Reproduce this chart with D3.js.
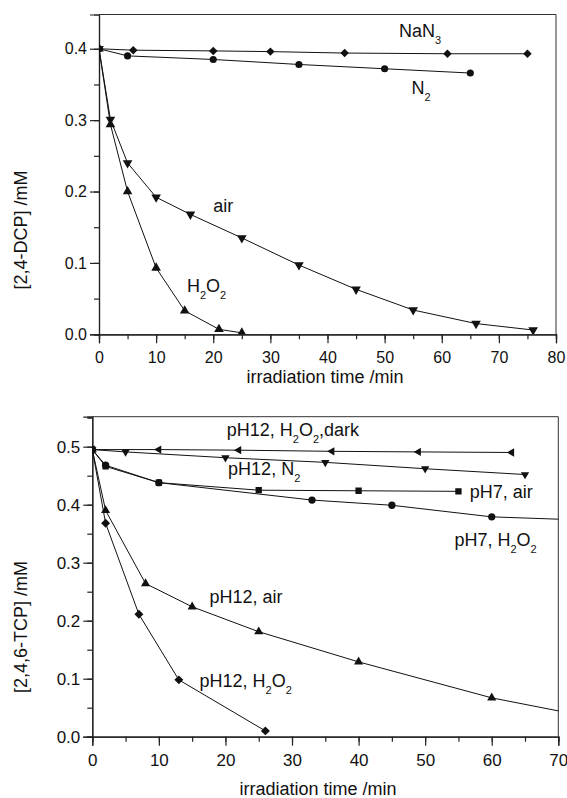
<!DOCTYPE html>
<html>
<head>
  <meta charset="utf-8">
  <title>DCP and TCP degradation</title>
  <script src="https://d3js.org/d3.v7.min.js"></script>
  <style>
    body { margin: 0; background: #fff; }
    text { font-family: "Liberation Sans", Arial, sans-serif; fill: #111; }
  </style>
</head>
<body>
<div id="chart"></div>
<script>

// ---- data: [time (min), concentration (mM)] ----

// top panel: 2,4-DCP
const dcpNaN3 = [[0,0.400],[6,0.398],[20,0.397],[30,0.396],[43,0.394],[61,0.393],[75,0.393]];
const dcpN2   = [[0,0.400],[5,0.390],[20,0.385],[35,0.378],[50,0.372],[65,0.366]];
const dcpAir  = [[0,0.400],[2,0.301],[5,0.240],[10,0.192],[16,0.168],[25,0.135],[35,0.097],[45,0.063],[55,0.034],[66,0.015],[76,0.006]];
const dcpH2O2 = [[0,0.400],[2,0.294],[5,0.200],[10,0.093],[15,0.033],[21,0.007],[25,0.002]];

// bottom panel: 2,4,6-TCP (last points of two series run past the axis end)
const tcpDark     = [[0,0.495],[10,0.495],[22,0.494],[36,0.492],[49,0.491],[63,0.490]];
const tcpN2       = [[0,0.495],[5,0.491],[20,0.481],[35,0.473],[50,0.462],[65,0.452]];
const tcpPh7Air   = [[0,0.495],[2,0.466],[10,0.438],[25,0.425],[40,0.424],[55,0.423]];
const tcpPh7H2O2  = [[0,0.495],[2,0.468],[10,0.438],[33,0.408],[45,0.399],[60,0.379],[80,0.371]];
const tcpPh12Air  = [[0,0.495],[2,0.390],[8,0.264],[15,0.224],[25,0.181],[40,0.129],[60,0.067],[80,0.022]];
const tcpPh12H2O2 = [[0,0.495],[2,0.368],[7,0.211],[13,0.098],[26,0.010]];

// tick values
const dcpXTicks = [0,10,20,30,40,50,60,70,80];
const dcpYTicks = [0.0,0.1,0.2,0.3,0.4];
const tcpXTicks = [0,10,20,30,40,50,60,70];
const tcpYTicks = [0.0,0.1,0.2,0.3,0.4,0.5];

// curve labels: text pieces (sub = subscript) and anchor in data units
const dcpLabels = [
  {t: 52.5, c: 0.416, parts: [["NaN"],["3",1]]},
  {t: 54.7, c: 0.337, parts: [["N"],["2",1]]},
  {t: 20.0, c: 0.171, parts: [["air"]]},
  {t: 15.4, c: 0.059, parts: [["H"],["2",1],["O"],["2",1]]}
];
const tcpLabels = [
  {t: 20.2, c: 0.518, parts: [["pH12, H"],["2",1],["O"],["2",1],[",dark"]]},
  {t: 20.4, c: 0.451, parts: [["pH12, N"],["2",1]]},
  {t: 56.7, c: 0.411, parts: [["pH7, air"]]},
  {t: 54.4, c: 0.329, parts: [["pH7, H"],["2",1],["O"],["2",1]]},
  {t: 17.6, c: 0.230, parts: [["pH12, air"]]},
  {t: 16.1, c: 0.085, parts: [["pH12, H"],["2",1],["O"],["2",1]]}
];

// ---- drawing ----

const svg = d3.select("#chart").append("svg")
  .attr("width", 567)
  .attr("height", 798);

// marker shapes: symbol type + rotation
const markers = {
  diamond:  {type: d3.symbolSquare,   rot: 45},
  circle:   {type: d3.symbolCircle,   rot: 0},
  square:   {type: d3.symbolSquare,   rot: 0},
  up:       {type: d3.symbolTriangle, rot: 0},
  down:     {type: d3.symbolTriangle, rot: 180},
  left:     {type: d3.symbolTriangle, rot: -90}
};

function panel(opt) {
  const g = svg.append("g").attr("transform", `translate(${opt.left},${opt.top})`);
  const w = opt.right - opt.left, h = opt.bottom - opt.top;

  const x = d3.scaleLinear().domain(opt.xDomain).range([0, w]);
  const y = d3.scaleLinear().domain(opt.yDomain).range([h, 0]);

  const clipId = "clip" + opt.id;
  g.append("clipPath").attr("id", clipId)
    .append("rect").attr("width", w).attr("height", h);

  // minor ticks
  const xMinor = d3.range(opt.xDomain[0], opt.xDomain[1] + 0.01, opt.xStep / 2);
  const yMinor = d3.range(0, opt.yDomain[1], opt.yStep / 2);
  g.append("g")
    .attr("transform", `translate(0,${h})`)
    .call(d3.axisBottom(x).tickValues(xMinor).tickSize(5).tickFormat(""));
  g.append("g")
    .call(d3.axisLeft(y).tickValues(yMinor).tickSize(5).tickFormat(""));

  // major ticks with labels
  g.append("g")
    .attr("transform", `translate(0,${h})`)
    .style("font-size", opt.tickFont + "px")
    .call(d3.axisBottom(x).tickValues(opt.xTicks).tickSize(9).tickPadding(8).tickFormat(d3.format("d")));
  g.append("g")
    .style("font-size", opt.tickFont + "px")
    .call(d3.axisLeft(y).tickValues(opt.yTicks).tickSize(9).tickPadding(3).tickFormat(d3.format(".1f")));

  g.selectAll(".domain").attr("stroke", "#222").attr("stroke-width", 1.2);
  g.selectAll(".tick line").attr("stroke", "#222").attr("stroke-width", 1.2);
  g.selectAll(".tick text").attr("fill", "#111").attr("font-family", "Liberation Sans, Arial, sans-serif");

  // frame on top and right
  g.append("path")
    .attr("d", `M0,0H${w}V${h}`)
    .attr("fill", "none")
    .attr("stroke", "#333")
    .attr("stroke-width", 1);

  // lines and markers
  const line = d3.line().x(d => x(d[0])).y(d => y(d[1]));
  opt.series.forEach(s => {
    g.append("path")
      .datum(s.data)
      .attr("clip-path", `url(#${clipId})`)
      .attr("fill", "none")
      .attr("stroke", "#111")
      .attr("stroke-width", 1)
      .attr("d", line);
    const m = markers[s.marker];
    g.append("g")
      .attr("clip-path", `url(#${clipId})`)
      .selectAll("path")
      .data(s.data.filter(d => d[0] <= opt.xDomain[1]))
      .join("path")
      .attr("transform", d => `translate(${x(d[0])},${y(d[1])}) rotate(${m.rot})`)
      .attr("d", d3.symbol().type(m.type).size(s.size))
      .attr("fill", "#111");
  });

  // curve labels
  opt.labels.forEach(l => {
    const t = g.append("text")
      .attr("x", x(l.t))
      .attr("y", y(l.c))
      .style("font-size", opt.labelFont + "px");
    let down = false;
    l.parts.forEach(p => {
      const sub = p[1] === 1;
      let dy = 0;
      if (sub && !down) { dy = 7; down = true; }
      else if (!sub && down) { dy = -7; down = false; }
      t.append("tspan")
        .attr("dy", dy)
        .style("font-size", sub ? "11px" : null)
        .text(p[0]);
    });
  });

  // axis titles
  g.append("text")
    .attr("text-anchor", "middle")
    .attr("x", opt.xTitleX - opt.left)
    .attr("y", opt.xTitleY - opt.top)
    .style("font-size", "18px")
    .text("irradiation time /min");

  g.append("text")
    .attr("text-anchor", "middle")
    .attr("transform", `translate(${opt.yTitleX - opt.left},${opt.yTitleY - opt.top}) rotate(-90)`)
    .style("font-size", "18px")
    .text(opt.yTitle);
}

panel({
  id: "dcp",
  left: 99, right: 556, top: 14.5, bottom: 334.3,
  xDomain: [0, 80], yDomain: [0, 0.448],
  xTicks: dcpXTicks, yTicks: dcpYTicks, xStep: 10, yStep: 0.1,
  tickFont: 16, labelFont: 18,
  xTitleX: 325, xTitleY: 383,
  yTitleX: 27, yTitleY: 230,
  yTitle: "[2,4-DCP] /mM",
  series: [
    {data: dcpNaN3, marker: "diamond", size: 36},
    {data: dcpN2,   marker: "circle",  size: 40},
    {data: dcpAir,  marker: "down",    size: 40},
    {data: dcpH2O2, marker: "up",      size: 40}
  ],
  labels: dcpLabels
});

panel({
  id: "tcp",
  left: 92.3, right: 558.3, top: 416.7, bottom: 736.7,
  xDomain: [0, 70], yDomain: [0, 0.5517],
  xTicks: tcpXTicks, yTicks: tcpYTicks, xStep: 10, yStep: 0.1,
  tickFont: 17, labelFont: 18,
  xTitleX: 318, xTitleY: 795,
  yTitleX: 27, yTitleY: 627,
  yTitle: "[2,4,6-TCP] /mM",
  series: [
    {data: tcpDark,     marker: "left",    size: 30},
    {data: tcpN2,       marker: "down",    size: 30},
    {data: tcpPh7Air,   marker: "square",  size: 40},
    {data: tcpPh7H2O2,  marker: "circle",  size: 42},
    {data: tcpPh12Air,  marker: "up",      size: 36},
    {data: tcpPh12H2O2, marker: "diamond", size: 40}
  ],
  labels: tcpLabels
});

</script>
</body>
</html>
